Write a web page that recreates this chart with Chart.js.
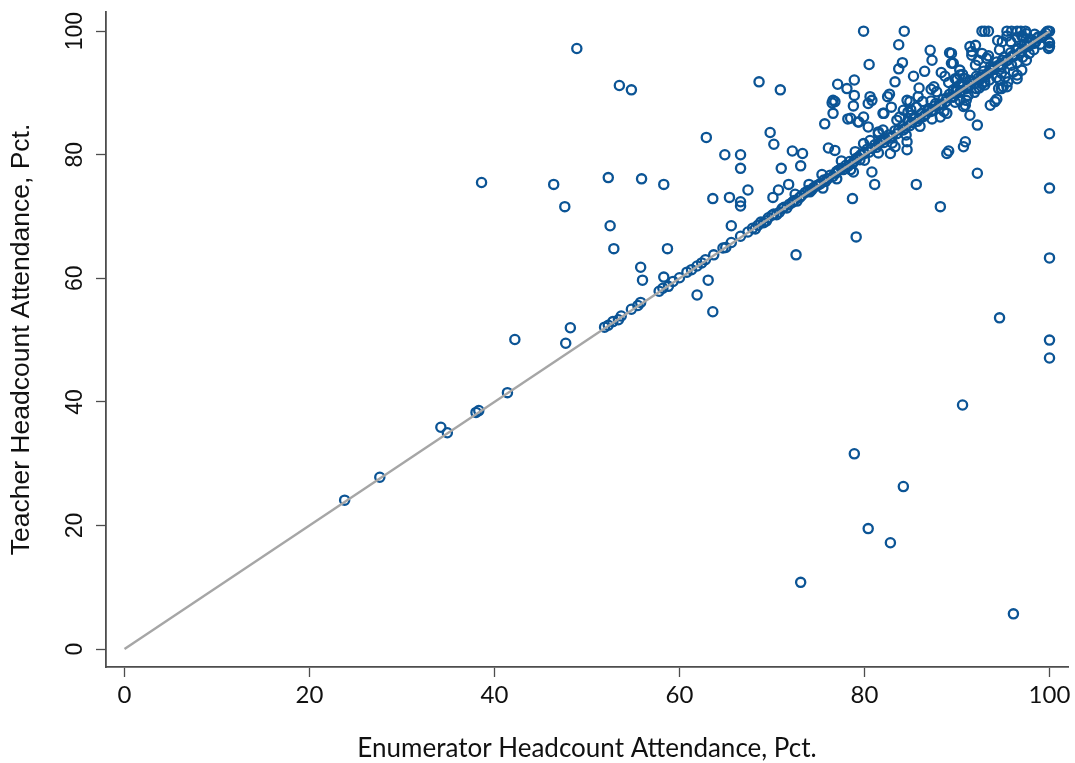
<!DOCTYPE html>
<html>
<head>
<meta charset="utf-8">
<script src="https://cdn.jsdelivr.net/npm/chart.js@4.4.1/dist/chart.umd.min.js"></script>
<style>
  html, body { margin: 0; padding: 0; background: #ffffff; }
  #wrap { width: 1075px; height: 763px; }
</style>
</head>
<body>
<div id="wrap"><canvas id="chart" width="1075" height="763"></canvas></div>
<script>
// Axis ticks and titles
const xTickValues = [0, 20, 40, 60, 80, 100];
const yTickValues = [0, 20, 40, 60, 80, 100];
const xTitle = 'Enumerator Headcount Attendance, Pct.';
const yTitle = 'Teacher Headcount Attendance, Pct.';

// 45-degree reference line (teacher = enumerator)
const equalityX = [0, 100];
const equalityY = [0, 100];

// School-level attendance: enumerator headcount vs teacher headcount (percent)
const enumeratorPct = [
  23.8, 27.6, 34.2, 34.9, 38.0, 38.3, 41.4, 42.2, 47.7, 48.2,
  38.6, 46.4, 47.6, 48.9, 52.3, 52.5, 52.9, 53.5, 54.8, 55.8,
  56.0, 55.9, 58.3, 58.7, 58.3, 61.9, 63.1, 63.6, 62.9, 63.6,
  64.9, 65.4, 65.6, 66.6, 66.6, 66.6, 66.6, 67.4, 68.6, 69.8,
  70.2, 70.9, 71.0, 70.7, 70.1, 71.8, 72.2, 73.3, 73.1, 72.6,
  73.1, 75.7, 76.6, 76.6, 76.5, 76.8, 77.1, 78.1, 78.2, 76.1,
  76.8, 78.5, 79.3, 79.9, 80.4, 81.5, 82.1, 79.9, 78.8, 80.8,
  81.1, 78.7, 79.1, 85.6, 88.2, 82.8, 83.3, 84.6, 84.6, 88.9,
  89.1, 90.7, 90.9, 92.2, 92.2, 88.2, 88.9, 79.9, 84.3, 83.7,
  80.5, 78.9, 78.9, 78.8, 92.7, 93.0, 93.4, 95.4, 95.9, 96.5,
  96.9, 97.4, 100.0, 100.0, 100.0, 100.0, 100.0, 100.0, 100.0, 100.0,
  94.6, 90.6, 78.9, 84.2, 80.4, 82.8, 96.1, 91.4, 90.9, 94.1,
  94.3, 95.4, 94.8, 94.6, 96.5, 97.0, 97.5, 92.7, 93.0, 80.6,
  80.8, 80.4, 82.7, 82.5, 83.3, 83.7, 84.1, 85.3, 86.5, 87.1,
  87.3, 89.2, 89.4, 88.3, 88.7, 90.3, 90.0, 91.4, 91.6, 85.9,
  85.8, 85.6, 84.9, 87.2, 87.5, 87.2, 84.6, 84.2, 83.8, 84.7,
  85.1, 82.0, 82.9, 79.4, 81.5, 94.4, 94.9, 95.4, 96.5, 97.0,
  97.5, 92.0, 92.7, 91.6, 93.2, 92.3, 89.4, 89.6, 90.3, 89.8,
  90.9, 93.9, 93.6, 94.8, 95.2, 96.1, 96.5, 95.5, 95.0, 94.5,
  93.6, 90.7, 91.0, 89.6, 90.3, 92.1, 92.8, 99.9, 99.9,
  51.9, 52.3, 52.8, 53.4, 53.7, 54.8, 55.5, 55.8, 57.8, 58.2,
  58.8, 59.3, 60.0, 60.8, 61.3, 61.9, 62.4, 62.8, 63.7, 64.7,
  65.0, 65.6, 66.6, 67.4, 67.9, 68.5, 69.1, 69.6, 70.2, 70.8,
  71.3, 71.9, 72.4, 72.7, 73.2, 73.6, 74.1, 74.5, 75.1, 75.6,
  76.0, 76.3, 76.9, 77.2, 77.7, 78.0, 78.4, 78.9, 79.3, 79.6,
  80.0, 80.3, 80.8, 81.1, 81.5, 81.9, 82.3, 82.6, 83.0, 83.3,
  83.7, 84.1, 84.4, 84.8, 85.1, 85.5, 85.9, 86.2, 86.6, 87.0,
  87.4, 87.7, 88.1, 88.5, 88.8, 89.2, 89.6, 89.9, 90.3, 90.7,
  91.0, 91.4, 91.8, 92.1, 92.5, 92.9, 93.2, 93.6, 94.0, 94.3,
  94.7, 95.1, 95.5, 95.8, 96.2, 96.6, 97.0, 97.3, 97.7, 98.1,
  98.5, 98.8, 99.2, 99.6,
  86.0, 87.3, 88.6, 89.8, 91.2, 92.4, 93.5, 94.8, 95.9, 97.1,
  98.3, 99.0, 90.3, 91.9, 93.0, 94.3, 96.5, 97.8,
  82.0, 83.5, 85.0, 86.3, 87.8, 89.1, 90.6, 92.0, 93.4, 94.6,
  95.8, 97.2, 98.4,
  68.2, 68.8, 69.4, 70.0, 70.5, 71.1, 71.6, 72.2, 73.0, 73.9,
  74.3, 74.8, 75.3, 75.8, 76.6, 77.0, 77.5, 78.2, 78.7, 79.1,
  79.5, 79.9, 80.5, 81.3, 81.7, 82.1, 82.8, 83.5, 84.2, 84.9,
  85.3, 85.7, 86.4, 86.8, 87.2, 87.6, 88.3, 88.9, 89.4, 90.0,
  90.5, 91.2, 91.6, 92.3, 92.7, 93.4, 93.8, 94.5, 94.9, 95.3,
  96.0, 96.4, 96.8, 97.5, 97.9, 98.3, 98.7, 99.4, 99.8,
  75.5, 77.0, 78.5, 80.0, 81.5, 83.0, 84.5,
  72.5, 74.0, 75.4, 77.5, 79.0, 80.6
];
const teacherPct = [
  24.1, 27.8, 35.9, 35.0, 38.3, 38.6, 41.5, 50.1, 49.5, 52.0,
  75.5, 75.2, 71.6, 97.2, 76.3, 68.5, 64.8, 91.2, 90.5, 61.8,
  59.7, 76.1, 75.2, 64.8, 60.2, 57.3, 59.7, 54.6, 82.8, 72.9,
  80.0, 73.1, 68.5, 80.0, 77.8, 72.4, 71.7, 74.3, 91.8, 83.6,
  81.7, 90.5, 77.8, 74.3, 73.1, 75.2, 80.6, 80.2, 78.2, 63.8,
  10.8, 85.0, 86.7, 88.8, 88.4, 88.6, 91.4, 90.7, 85.8, 81.1,
  80.7, 85.9, 85.3, 86.1, 84.5, 83.4, 86.7, 81.8, 77.2, 77.2,
  75.2, 72.9, 66.7, 75.2, 71.6, 80.2, 81.3, 82.1, 80.8, 80.2,
  80.6, 81.3, 82.1, 84.8, 77.0, 86.1, 86.7, 100.0, 100.0, 97.8,
  94.6, 92.1, 89.6, 87.9, 100.0, 100.0, 100.0, 100.0, 100.0, 100.0,
  100.0, 100.0, 100.0, 98.1, 97.5, 83.4, 74.6, 63.3, 50.0, 47.1,
  53.6, 39.5, 31.6, 26.3, 19.5, 17.2, 5.7, 86.4, 88.0, 88.6,
  89.0, 91.0, 90.7, 92.1, 92.9, 93.7, 95.3, 91.5, 91.8, 89.4,
  88.8, 88.3, 89.8, 89.4, 91.8, 93.9, 94.9, 92.7, 93.5, 96.9,
  95.3, 96.5, 94.8, 93.3, 92.7, 92.9, 92.2, 97.5, 96.7, 90.8,
  89.4, 87.7, 88.6, 90.6, 91.0, 88.7, 88.8, 87.2, 86.1, 86.9,
  86.4, 86.7, 87.7, 85.3, 83.7, 98.5, 98.3, 99.2, 99.0, 99.2,
  99.6, 97.7, 96.4, 96.1, 95.6, 95.3, 96.4, 94.8, 93.7, 92.3,
  92.3, 94.2, 93.7, 94.2, 92.6, 93.4, 92.3, 91.8, 91.0, 90.7,
  88.0, 87.8, 88.8, 90.5, 91.3, 90.7, 92.6, 98.3, 97.2,
  52.1, 52.4, 53.0, 53.3, 53.9, 55.0, 55.6, 56.1, 57.9, 58.4,
  58.7, 59.5, 60.1, 61.0, 61.4, 62.0, 62.5, 63.0, 63.8, 64.9,
  65.0, 65.8, 66.8, 67.5, 68.1, 68.6, 69.0, 69.8, 70.4, 70.7,
  71.5, 72.0, 72.6, 72.5, 73.4, 73.9, 74.0, 74.7, 75.2, 75.9,
  76.1, 76.7, 77.0, 77.5, 77.6, 78.3, 78.9, 79.0, 79.6, 80.0,
  80.2, 80.9, 81.0, 81.6, 81.7, 82.4, 82.5, 83.2, 83.0, 83.9,
  84.0, 84.6, 84.3, 85.4, 85.2, 86.0, 85.8, 86.7, 86.5, 87.5,
  87.2, 88.3, 88.0, 89.0, 88.6, 89.8, 89.3, 90.5, 90.1, 91.2,
  90.7, 92.0, 91.5, 92.7, 92.2, 93.5, 93.0, 94.2, 93.8, 95.0,
  94.5, 95.8, 95.3, 96.5, 96.0, 97.2, 96.8, 97.9, 97.5, 98.6,
  98.2, 99.1, 99.0, 99.7,
  84.6, 85.8, 87.0, 88.5, 89.6, 90.8, 92.1, 93.2, 94.5, 95.8,
  97.0, 97.9, 88.8, 90.1, 91.3, 92.5, 94.9, 96.4,
  84.0, 85.6, 87.3, 88.6, 90.2, 91.7, 93.0, 94.5, 96.0, 97.0,
  98.3, 99.0, 99.5,
  68.0, 69.1, 69.3, 70.2, 70.3, 71.3, 71.4, 72.3, 73.1, 74.2,
  74.3, 75.0, 75.4, 75.7, 76.5, 77.3, 77.8, 78.1, 78.6, 79.4,
  79.2, 80.3, 80.4, 81.2, 82.1, 82.0, 82.7, 83.4, 84.0, 84.7,
  85.8, 85.4, 86.2, 87.1, 87.0, 87.9, 88.2, 89.2, 89.4, 90.3,
  90.4, 91.3, 91.9, 92.4, 92.9, 93.3, 94.0, 94.5, 95.3, 95.2,
  96.0, 96.9, 96.5, 97.6, 98.1, 98.0, 98.9, 99.3, 100.0,
  74.6, 76.1, 77.6, 79.1, 80.3, 81.9, 83.2,
  73.6, 75.2, 76.8, 79.0, 80.5, 82.3
];

const schoolPoints = enumeratorPct.map((x, i) => ({ x: x, y: teacherPct[i] }));
const equalityPoints = equalityX.map((x, i) => ({ x: x, y: equalityY[i] }));

const axisColor = '#4d4d4d';
const textColor = '#111111';

new Chart(document.getElementById('chart'), {
  type: 'scatter',
  data: {
    datasets: [
      {
        type: 'line',
        data: equalityPoints,
        borderColor: '#a6a6a6',
        borderWidth: 2.4,
        pointRadius: 0,
        fill: false,
        order: 0
      },
      {
        data: schoolPoints,
        pointStyle: 'circle',
        pointRadius: 4.6,
        pointBorderWidth: 2.3,
        borderColor: '#0b5495',
        backgroundColor: 'rgba(0,0,0,0)',
        order: 1
      }
    ]
  },
  options: {
    responsive: false,
    animation: false,
    events: [],
    layout: { padding: { top: 12, right: 7, left: 0, bottom: 0 } },
    plugins: { legend: { display: false }, tooltip: { enabled: false } },
    scales: {
      x: {
        type: 'linear',
        min: -2,
        max: 102,
        afterBuildTicks: s => { s.ticks = xTickValues.map(v => ({ value: v })); },
        afterFit: s => { s.height = 96; s.paddingLeft = 0; s.paddingRight = 0; },
        grid: { display: true, drawOnChartArea: false, drawTicks: true, tickLength: 10, tickColor: axisColor, tickWidth: 1.3 },
        border: { display: true, color: axisColor, width: 1.8 },
        ticks: { color: textColor, font: { family: 'Lato', size: 24 }, padding: 4, maxRotation: 0, minRotation: 0 },
        title: { display: true, text: xTitle, color: textColor, font: { family: 'Lato', size: 26 }, padding: { top: 0, bottom: -1 } }
      },
      y: {
        type: 'linear',
        min: -2.9,
        max: 103.1,
        afterBuildTicks: s => { s.ticks = yTickValues.map(v => ({ value: v })); },
        afterFit: s => { s.width = 106; s.paddingTop = 0; s.paddingBottom = 0; },
        grid: { display: true, drawOnChartArea: false, drawTicks: true, tickLength: 10, tickColor: axisColor, tickWidth: 1.3 },
        border: { display: true, color: axisColor, width: 1.8 },
        ticks: { color: textColor, font: { family: 'Liberation Sans', size: 23 }, padding: 1, minRotation: 90, maxRotation: 90, crossAlign: 'center' },
        title: { display: true, text: yTitle, color: textColor, font: { family: 'Liberation Sans', size: 26.5 }, padding: { top: 6, bottom: 0 } }
      }
    }
  }
});
</script>
</body>
</html>
